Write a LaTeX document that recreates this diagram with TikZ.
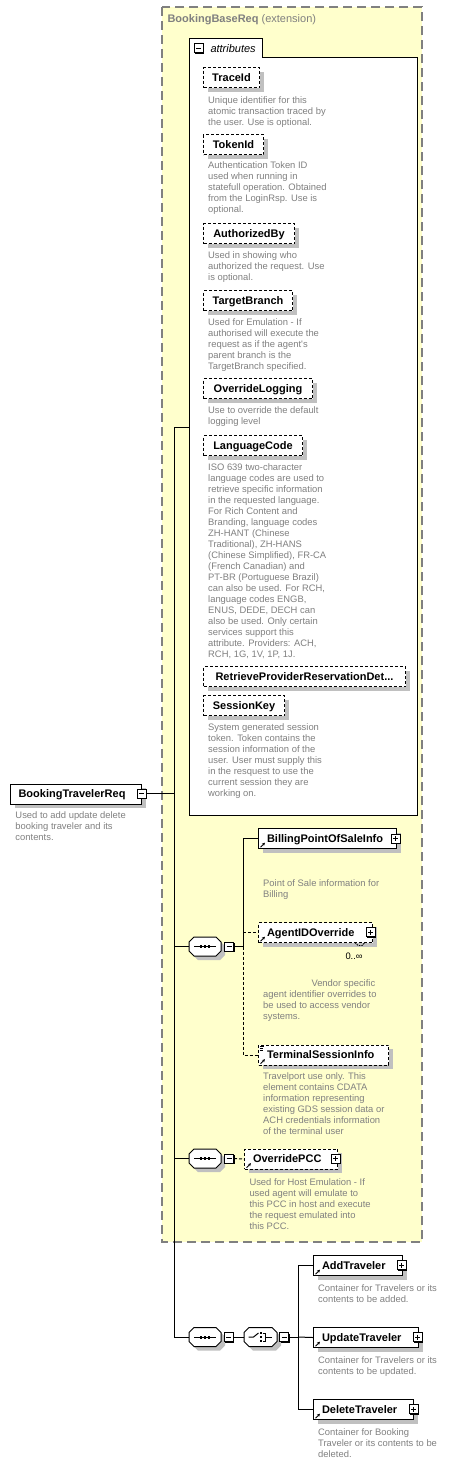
\documentclass[tikz,border=0pt]{standalone}
\usepackage{fontspec}
\setmainfont{Liberation Sans}
\usetikzlibrary{shadows,arrows.meta}
\definecolor{yel}{RGB}{255,255,204}
\definecolor{dgray}{RGB}{128,128,128}
\definecolor{shad}{RGB}{192,192,192}
\newcommand\descfont{\fontsize{9.4}{11}\selectfont}
\newcommand\namefont{\bfseries\fontsize{11}{13}\selectfont}
% octagon outline, half width #1, centred at origin
\newcommand\octpath[1]{({-#1},-4.5) -- ({-#1+5},-9.5) -- ({#1-5},-9.5) -- ({#1},-4.5) -- ({#1},4.5) -- ({#1-5},9.5) -- ({-#1+5},9.5) -- ({-#1},4.5) -- cycle}
% compositor node: name, x, y, half width
\newcommand\compositor[4]{%
  \begin{scope}[shift={(#2+4,#3+4)}]\fill[shad] \octpath{#4};\end{scope}
  \begin{scope}[shift={(#2,#3)}]\draw[fill=white] \octpath{#4};\end{scope}
  \node[inner sep=0pt,minimum width=2*#4 pt,minimum height=19pt] (#1) at (#2,#3) {};}
\begin{document}
\begin{tikzpicture}[x=1pt,y=-1pt,line width=1pt,
  shd/.style={drop shadow={shadow xshift=4pt,shadow yshift=-4pt,fill=shad,opacity=1}},
  attrbox/.style={draw,dash pattern=on 3pt off 2pt,fill=white,shd,minimum height=20pt,
    inner sep=0pt,anchor=north west,font=\namefont,text height=7.5pt,text depth=0.5pt,align=center},
  elbox/.style={draw,fill=white,shd,minimum height=20pt,inner ysep=0pt,inner xsep=8.5pt,
    anchor=north west,font=\namefont,text height=7.5pt,text depth=0.5pt,align=left},
  optbox/.style={elbox,dash pattern=on 3pt off 2pt},
  desc/.style={anchor=north west,inner sep=0pt,text=dgray,font=\descfont,align=left},
  pmbox/.style={draw,fill=white,minimum size=9pt,inner sep=0pt,
    drop shadow={shadow xshift=1pt,shadow yshift=-1pt,fill=black,opacity=1}},
  plusbox/.style={pmbox,path picture={
    \draw[line width=1pt] ([xshift=2pt]path picture bounding box.west) -- ([xshift=-2pt]path picture bounding box.east);
    \draw[line width=1pt] ([yshift=-2pt]path picture bounding box.north) -- ([yshift=2pt]path picture bounding box.south);}},
  minusbox/.style={pmbox,path picture={
    \draw[line width=1pt] ([xshift=2pt]path picture bounding box.west) -- ([xshift=-2pt]path picture bounding box.east);}},
  conn/.style={line width=1pt},
  optconn/.style={line width=1pt,dash pattern=on 3pt off 2pt},
  refarrow/.style={-{Stealth[length=3pt,width=3pt]},line width=0.9pt}
]
\useasboundingbox (0,0) rectangle (461,1475);

% extension region
\draw[fill=yel,draw=dgray,line width=1.5pt,dash pattern=on 9pt off 5pt] (162,7) rectangle (422,1242);
\node[anchor=base west,inner sep=0pt,text=dgray,font=\fontsize{11}{13}\selectfont] (title) at (167,22.5)
  {\textbf{BookingBaseReq} (extension)};

% attributes container
\draw[fill=white] (189,815) -- (189,38) -- (262,38) -- (262,57) -- (417,57) -- (417,815) -- cycle;
\node[minusbox] (attrm) at (198.5,48) {};
\node[anchor=base west,inner sep=0pt,font=\itshape\fontsize{11}{13}\selectfont] (attrlbl) at (210,52.3) {attributes};
\coordinate (attrW) at (189,427);

% junction coordinates
\coordinate (spineTop) at (174,427);
\coordinate (spineBot) at (174,1337);
\coordinate (j0) at (174,793.5);
\coordinate (j1) at (174,946.5);
\coordinate (j2) at (174,1158.5);
\coordinate (b1mid) at (243,946.5);
\coordinate (b3mid) at (298,1337);

% spine
\draw[conn] (spineTop) -- (spineBot);
\draw[conn] (spineTop) -- (attrW);

% root
\node[elbox,inner xsep=8pt,text width=115pt] (root) at (10,783.5) {BookingTravelerReq};

% compositors
\compositor{s1}{205}{946.5}{16}
\compositor{s2}{205}{1158.5}{16}
\compositor{s3}{205}{1337}{16}
\compositor{c3}{260.5}{1337}{16.5}

% connectors from the spine
\draw[conn] (j1) -- (s1.west);
\draw[conn] (j2) -- (s2.west);
\draw[conn] (spineBot) -- (s3.west);

% elements of first sequence
\node[elbox,text width=121pt] (billing) at (258,828) {BillingPointOfSaleInfo};
\node[optbox,text width=97pt] (agent) at (258,922) {AgentIDOverride};
\node[optbox,text width=113pt] (terminal) at (258,1044.5) {TerminalSessionInfo};
\node[optbox,inner xsep=8.5pt,text width=76pt] (opcc) at (244,1148.5) {OverridePCC};

% choice elements
\node[elbox,text width=72pt] (addT) at (313,1255) {AddTraveler};
\node[elbox,text width=88pt] (updT) at (313,1327) {UpdateTraveler};
\node[elbox,text width=83pt] (delT) at (313,1399) {DeleteTraveler};

% minus boxes
\node[minusbox] (rootm) at (141.5,793.5) {};
\node[minusbox] (s1m) at (229,946.5) {};
\node[minusbox] (s2m) at (229,1158.5) {};
\node[minusbox] (s3m) at (228.5,1337) {};
\node[minusbox] (c3m) at (284,1337) {};

% branch connectors
\draw[conn] (rootm.east) -- (j0);
\draw[conn] (s1m.east) -- (b1mid);
\draw[conn] (b1mid) |- (billing.west);
\draw[optconn] (b1mid) |- (terminal.west);
\draw[optconn] (b1mid |- agent.west) -- (agent.west);
\draw[optconn] (s2m.east) -- (opcc.west);
\draw[conn] (s3m.east) -- (c3.west);
\draw[conn] (c3m.east) -- (b3mid);
\draw[conn] (b3mid) |- (addT.west);
\draw[conn] (b3mid) |- (delT.west);
\draw[conn] (b3mid) -- (updT.west);

% plus boxes
\node[plusbox] (billingp) at (395.5,838.5) {};
\node[plusbox] (agentp) at (370.5,932) {};
\node[plusbox] (opccp) at (335.5,1158.5) {};
\node[plusbox] (addTp) at (401.5,1265) {};
\node[plusbox] (updTp) at (417.5,1337) {};
\node[plusbox] (delTp) at (413.5,1409) {};

% reference arrows
\foreach \n in {billing,agent,terminal,opcc,addT,updT,delT}
  \draw[refarrow] ([shift={(2.5,-1.8)}]\n.south west) -- ++(4.5,-4.5);
% text content icon
\draw[line width=0.8pt] (259.5,1046.5) -- ++(4.5,0);
\draw[line width=0.8pt] (259.5,1048.3) -- ++(3.5,0);
\draw[line width=0.8pt] (259.5,1050.1) -- ++(3.5,0);
% repetition mark and multiplicity
\draw[line width=0.8pt,dash pattern=on 1.5pt off 1pt] (355,942.5) -- (358,945.5) -- (362,945.5) -- (365,942.5);
\node[anchor=base west,inner sep=0pt,font=\descfont] (agentmult) at (345,959) {0..∞};

% compositor icons
\foreach \s in {s1,s2,s3}{
  \draw[line width=1pt] ([xshift=-11pt]\s.center) -- ([xshift=11pt]\s.center);
  \foreach \dx in {-4,0,4}
    \fill ([shift={(\dx-1.3,-1.5)}]\s.center) rectangle ++(2.6,3);
}
\draw[line width=1pt] ([shift={(-12,0)}]c3.center) -- ++(5,0) -- ++(5,-4);
\foreach \dy in {-4,0,4}
  \fill ([shift={(-1,\dy-1.1)}]c3.center) rectangle ++(2.2,2.2);
\draw[line width=1pt] ([shift={(2,-4)}]c3.center) -- ++(2.5,0) -- ++(0,8) -- ++(-2.5,0);
\draw[line width=1pt] ([shift={(4.5,0)}]c3.center) -- ++(7,0);

% attributes
\node[attrbox,minimum width=56pt] (traceid) at (203,67) {TraceId};
\node[attrbox,minimum width=60pt] (tokenid) at (203,134) {TokenId};
\node[attrbox,minimum width=91pt] (authby) at (203,223) {AuthorizedBy};
\node[attrbox,minimum width=89pt] (tbranch) at (203,290) {TargetBranch};
\node[attrbox,minimum width=109pt] (ovlog) at (203,378) {OverrideLogging};
\node[attrbox,minimum width=99pt] (lang) at (203,435) {LanguageCode};
\node[attrbox,minimum width=202pt] (rprd) at (203,666) {RetrieveProviderReservationDet...};
\node[attrbox,minimum width=81pt] (skey) at (203,695) {SessionKey};

% descriptions
\node[desc] (traceidd) at (207.7,95.8) {Unique identifier for this\\atomic transaction traced by\\the user. Use is optional.};
\node[desc] (tokenidd) at (207.7,161.5) {Authentication Token ID\\used when running in\\statefull operation. Obtained\\from the LoginRsp. Use is\\optional.};
\node[desc] (authbyd) at (207.7,251.5) {Used in showing who\\authorized the request. Use\\is optional.};
\node[desc] (tbranchd) at (207.7,318.1) {Used for Emulation - If\\authorised will execute the\\request as if the agent\textquotesingle s\\parent branch is the\\TargetBranch specified.};
\node[desc] (ovlogd) at (207.7,406.5) {Use to override the default\\logging level};
\node[desc] (langd) at (207.7,463.1) {ISO 639 two-character\\language codes are used to\\retrieve specific information\\in the requested language.\\For Rich Content and\\Branding, language codes\\ZH-HANT (Chinese\\Traditional), ZH-HANS\\(Chinese Simplified), FR-CA\\(French Canadian) and\\PT-BR (Portuguese Brazil)\\can also be used. For RCH,\\language codes ENGB,\\ENUS, DEDE, DECH can\\also be used. Only certain\\services support this\\attribute. Providers: ACH,\\RCH, 1G, 1V, 1P, 1J.};
\node[desc] (skeyd) at (207.7,723.1) {System generated session\\token. Token contains the\\session information of the\\user. User must supply this\\in the resquest to use the\\current session they are\\working on.};
\node[desc] (rootd) at (15,811.5) {Used to add update delete\\booking traveler and its\\contents.};
\node[desc] (billingd) at (262.7,878.8) {Point of Sale information for\\Billing};
\node[desc] (agentd) at (262.7,979.1) {\hspace*{48.3pt}Vendor specific\\agent identifier overrides to\\be used to access vendor\\systems.};
\node[desc] (terminald) at (262.7,1072.1) {Travelport use only. This\\element contains CDATA\\information representing\\existing GDS session data or\\ACH credentials information\\of the terminal user};
\node[desc] (opccd) at (249,1178.1) {Used for Host Emulation - If\\used agent will emulate to\\this PCC in host and execute\\the request emulated into\\this PCC.};
\node[desc] (addTd) at (317.7,1283.8) {Container for Travelers or its\\contents to be added.};
\node[desc] (updTd) at (317.7,1355.8) {Container for Travelers or its\\contents to be updated.};
\node[desc] (delTd) at (317.7,1428.1) {Container for Booking\\Traveler or its contents to be\\deleted.};
\end{tikzpicture}
\end{document}
